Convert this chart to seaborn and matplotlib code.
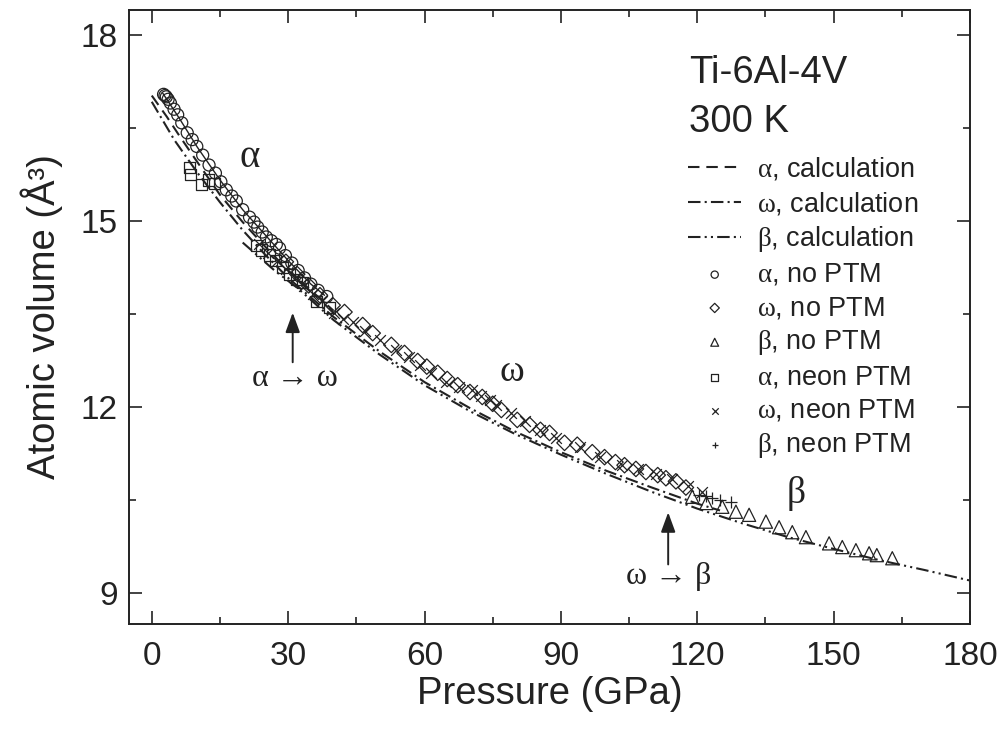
import numpy as np
import pandas as pd
import matplotlib
matplotlib.use("Agg")
import matplotlib.pyplot as plt
from matplotlib.ticker import MultipleLocator
import seaborn as sns

# ---------------- data ----------------
alpha_noPTM_P = [2.6, 2.9, 3.2, 3.6, 4.1, 4.9, 5.7, 6.6, 7.8, 8.9, 9.9, 11.2, 12.6, 14.0, 15.2, 16.4,
                 17.6, 18.6, 20.0, 21.5, 22.5, 23.3, 24.3, 25.2, 26.3, 27.4, 28.1, 29.4, 30.8, 32.2,
                 33.6, 35.0, 36.6, 38.5]
alpha_noPTM_V = [17.04, 17.02, 17.0, 16.96, 16.9, 16.8, 16.71, 16.58, 16.42, 16.31, 16.2, 16.06, 15.9,
                 15.77, 15.63, 15.5, 15.4, 15.32, 15.18, 15.06, 14.98, 14.9, 14.82, 14.74, 14.68, 14.62,
                 14.56, 14.44, 14.32, 14.2, 14.08, 13.98, 13.88, 13.78]

alpha_neon_P = [8.3, 8.6, 10.9, 12.4, 13.8, 23.0, 24.2, 25.9, 27.2, 28.8, 30.3, 31.9, 33.2, 36.3, 39.1]
alpha_neon_V = [15.86, 15.75, 15.58, 15.66, 15.6, 14.6, 14.53, 14.45, 14.36, 14.25, 14.14, 14.06, 14.0,
                13.7, 13.6]

omega_noPTM_P = [29.5, 32.0, 34.5, 37.0, 39.8, 42.4, 46.4, 48.6, 52.7, 55.6, 58.5, 60.5, 62.9, 65.0,
                 67.3, 70.0, 72.7, 75.0, 76.9, 80.4, 83.1, 85.5, 87.5, 90.8, 93.6, 96.9, 99.6, 102.0,
                 104.0, 106.5, 108.7, 111.3, 113.1, 115.3, 117.5]
omega_noPTM_V = [14.34, 14.14, 13.96, 13.8, 13.64, 13.53, 13.32, 13.19, 13.0, 12.87, 12.74, 12.65,
                 12.55, 12.45, 12.35, 12.24, 12.16, 12.05, 11.95, 11.79, 11.71, 11.63, 11.58, 11.42,
                 11.39, 11.27, 11.19, 11.11, 11.06, 11.0, 10.95, 10.9, 10.85, 10.8, 10.7]

omega_neon_P = [23.5, 25.5, 27.5, 29.5, 31.5, 33.5, 35.5, 37.5, 40.0, 42.0, 44.2, 47.0, 50.1, 53.8,
                56.5, 58.9, 61.5, 64.8, 67.5, 70.5, 72.5, 74.3, 75.8, 79.0, 82.0, 85.3, 89.0, 94.1,
                98.5, 103.5, 107.0, 111.0, 114.5, 118.0, 121.0]
omega_neon_V = [14.62, 14.48, 14.35, 14.22, 14.08, 13.95, 13.82, 13.7, 13.52, 13.42, 13.37, 13.22,
                13.08, 12.92, 12.8, 12.68, 12.55, 12.4, 12.32, 12.27, 12.18, 12.11, 12.03, 11.9,
                11.78, 11.63, 11.5, 11.35, 11.2, 11.06, 11.0, 10.92, 10.84, 10.72, 10.62]

beta_noPTM_P = [118.9, 122.0, 125.5, 128.5, 131.4, 135.1, 138.0, 140.9, 143.9, 149.0, 151.9, 154.9,
                157.8, 159.5, 162.9]
beta_noPTM_V = [10.55, 10.45, 10.39, 10.31, 10.26, 10.15, 10.06, 9.98, 9.9, 9.8, 9.74, 9.69, 9.64,
                9.61, 9.56]

beta_neon_P = [120.4, 122.0, 123.3, 125.0, 127.5]
beta_neon_V = [10.58, 10.56, 10.53, 10.5, 10.47]

# fit through alpha (no PTM) data
alpha_fit_P = [2.4, 6, 10, 15, 20, 25, 30, 35, 38]
alpha_fit_V = [17.06, 16.66, 16.19, 15.66, 15.18, 14.77, 14.36, 13.98, 13.8]

# calculations
alpha_calc_P = [0, 3.3, 6, 10, 15, 20, 25, 30, 35, 40]
alpha_calc_V = [17.02, 16.68, 16.38, 15.95, 15.42, 14.98, 14.58, 14.2, 13.88, 13.55]

omega_calc_P = [0, 5, 10, 15, 20, 25, 30, 40, 50, 60, 70, 80, 90, 100, 110, 120, 125]
omega_calc_V = [16.92, 16.3, 15.78, 15.3, 14.85, 14.45, 14.08, 13.45, 12.9, 12.4, 11.98, 11.6, 11.27,
                10.97, 10.7, 10.44, 10.33]

beta_calc_P = [20, 27, 32, 40, 50, 60, 70, 80, 90, 100, 110, 120, 130, 140, 150, 160, 170, 180]
beta_calc_V = [14.65, 14.2, 13.92, 13.4, 12.85, 12.35, 11.93, 11.56, 11.23, 10.92, 10.63, 10.36,
               10.12, 9.9, 9.71, 9.53, 9.37, 9.2]

x_ticks = [0, 30, 60, 90, 120, 150, 180]
y_ticks = [9, 12, 15, 18]

# ---------------- style ----------------
sns.set_theme(style="ticks")
plt.rcParams["font.family"] = ["Liberation Sans", "DejaVu Sans"]
plt.rcParams["mathtext.fontset"] = "custom"
plt.rcParams["mathtext.rm"] = "Liberation Serif"
plt.rcParams["mathtext.it"] = "Liberation Serif"
plt.rcParams["axes.linewidth"] = 1.4

INK = "#222222"
fig = plt.figure(figsize=(10.05, 7.4), dpi=100)
ax = fig.add_axes([0.1284, 0.1568, 0.8368, 0.8297])

LW = 1.5
# lines
sns.lineplot(x=alpha_fit_P, y=alpha_fit_V, ax=ax, color=INK, lw=1.0, sort=False)
sns.lineplot(x=alpha_calc_P, y=alpha_calc_V, ax=ax, color=INK, lw=LW, sort=False,
             linestyle=(0, (5.5, 3.3)), label=r"$\mathrm{\alpha}$, calculation", legend=False)
sns.lineplot(x=omega_calc_P, y=omega_calc_V, ax=ax, color=INK, lw=LW, sort=False,
             linestyle=(0, (6, 2, 1, 2)), label=r"$\mathrm{\omega}$, calculation", legend=False)
sns.lineplot(x=beta_calc_P, y=beta_calc_V, ax=ax, color=INK, lw=LW, sort=False,
             linestyle=(0, (6, 2, 1, 2, 1, 2)), label=r"$\mathrm{\beta}$, calculation", legend=False)

mk = dict(facecolor="none", edgecolor=INK, linewidth=0.9, legend=False)
sns.scatterplot(x=alpha_noPTM_P, y=alpha_noPTM_V, ax=ax, marker="o", s=75,
                label=r"$\mathrm{\alpha}$, no PTM", **mk)
sns.scatterplot(x=omega_noPTM_P, y=omega_noPTM_V, ax=ax, marker="D", s=62,
                label=r"$\mathrm{\omega}$, no PTM", **mk)
sns.scatterplot(x=beta_noPTM_P, y=beta_noPTM_V, ax=ax, marker="^", s=90,
                label=r"$\mathrm{\beta}$, no PTM", **mk)
sns.scatterplot(x=alpha_neon_P, y=alpha_neon_V, ax=ax, marker="s", s=65,
                label=r"$\mathrm{\alpha}$, neon PTM", **mk)
sns.scatterplot(x=omega_neon_P, y=omega_neon_V, ax=ax, marker="x", s=60, color=INK,
                linewidth=0.9, legend=False, label=r"$\mathrm{\omega}$, neon PTM")
sns.scatterplot(x=beta_neon_P, y=beta_neon_V, ax=ax, marker="+", s=70, color=INK,
                linewidth=0.9, legend=False, label=r"$\mathrm{\beta}$, neon PTM")

# axes
ax.set_xlim(-5, 180)
ax.set_ylim(8.5, 18.4)
ax.set_xticks(x_ticks)
ax.set_yticks(y_ticks)
ax.xaxis.set_minor_locator(MultipleLocator(15))
ax.yaxis.set_minor_locator(MultipleLocator(1.5))
ax.tick_params(which="both", direction="in", top=True, right=True, color=INK)
ax.tick_params(which="major", length=9.5, width=1.2, labelsize=24, labelcolor=INK)
ax.tick_params(axis="x", which="major", pad=12)
ax.tick_params(axis="y", which="major", pad=8)
ax.tick_params(which="minor", length=5, width=1.2)
for s in ax.spines.values():
    s.set_color(INK)
ax.set_xlabel("Pressure (GPa)", fontsize=27.5, labelpad=3, color=INK)
ax.set_ylabel("Atomic volume (Å³)", fontsize=27.5, labelpad=13, color=INK)

# annotations
serif = "Liberation Serif"
ax.text(21.5, 16.02, "α", fontsize=28, family=serif, ha="center", va="center", color=INK)
ax.text(79.3, 12.56, "ω", fontsize=27, family=serif, ha="center", va="center", color=INK)
ax.text(141.8, 10.6, "β", fontsize=27, family=serif, ha="center", va="center", color=INK)
ax.text(31.6, 12.45, "α → ω", fontsize=23, family=serif, ha="center", va="center", color=INK)
ax.text(113.8, 9.26, "ω → β", fontsize=23, family=serif, ha="center", va="center", color=INK)
arrow = dict(arrowstyle="-|>,head_length=0.6,head_width=0.22", color=INK, lw=1.4,
             mutation_scale=20, shrinkA=0, shrinkB=0)
ax.annotate("", xy=(31.0, 13.52), xytext=(31.0, 12.72), arrowprops=arrow)
ax.annotate("", xy=(113.6, 10.3), xytext=(113.6, 9.46), arrowprops=arrow)

ax.text(118.2, 17.23, "Ti-6Al-4V", fontsize=27.5, ha="left", va="baseline", color=INK)
ax.text(118.2, 16.44, "300 K", fontsize=27.5, ha="left", va="baseline", color=INK)

# legend in fixed order
handles, labels = ax.get_legend_handles_labels()
order = [r"$\mathrm{\alpha}$, calculation", r"$\mathrm{\omega}$, calculation",
         r"$\mathrm{\beta}$, calculation", r"$\mathrm{\alpha}$, no PTM",
         r"$\mathrm{\omega}$, no PTM", r"$\mathrm{\beta}$, no PTM",
         r"$\mathrm{\alpha}$, neon PTM", r"$\mathrm{\omega}$, neon PTM",
         r"$\mathrm{\beta}$, neon PTM"]
hmap = dict(zip(labels, handles))
leg = ax.legend([hmap[k] for k in order], order, loc="upper left",
                bbox_to_anchor=(0.665, 0.7625), frameon=False, fontsize=19.5,
                handlelength=1.95, handletextpad=0.6, labelspacing=0.27,
                borderpad=0, borderaxespad=0, markerscale=0.6)
for t in leg.get_texts():
    t.set_color(INK)

fig.savefig("out.png", dpi=100)
